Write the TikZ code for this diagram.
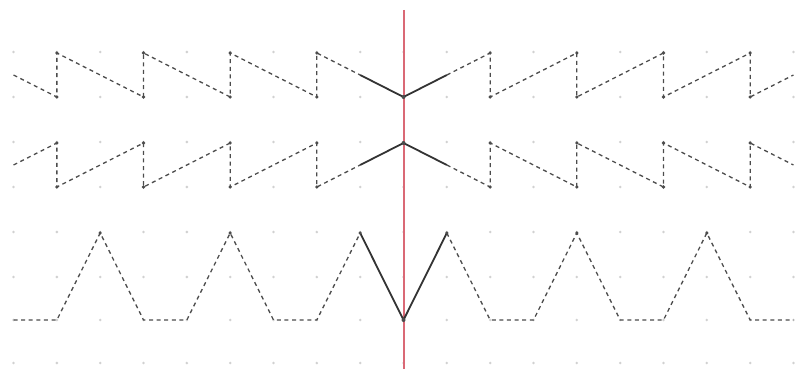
\documentclass[tikz,border=0pt]{standalone}
\begin{document}
\begin{tikzpicture}[x=0.5pt,y=-0.5pt,
  griddot/.style={fill=black!18},
  vdot/.style={fill=black!70},
  dashline/.style={draw=black!70, line width=0.65pt, dash pattern=on 2pt off 1.8pt},
  solidline/.style={draw=black!80, line width=0.9pt},
  axisline/.style={draw={rgb,255:red,218;green,105;blue,118}, line width=1pt}]
\useasboundingbox (0,0) rectangle (801,369);
\begin{scope}[shift={(403.5,0)}, x=21.665pt]
  % faint grid
  \foreach \i in {-9,...,9}
    \foreach \r in {52,97,142,187,232,277,320,363}
      \fill[griddot] (\i,\r) circle (0.7pt);
  % mirror axis
  \coordinate (axtop) at (0,10);
  \coordinate (axbot) at (0,369);
  \draw[axisline] (axtop) -- (axbot);
  % frieze 1
  \draw[dashline] (-9,75) -- (-8,97) -- (-8,53) -- (-6,97) -- (-6,53) -- (-4,97) -- (-4,53) -- (-2,97) -- (-2,53) -- (-1,75);
  \draw[dashline] (1,75) -- (2,53) -- (2,97) -- (4,53) -- (4,97) -- (6,53) -- (6,97) -- (8,53) -- (8,97) -- (9,75);
  \draw[solidline] (-1,75) -- (0,97) -- (1,75);
  \foreach \i in {-8,-6,-4,-2,2,4,6,8}
    \foreach \r in {53,97}
      \fill[vdot] (\i,\r) circle (0.9pt);
  % frieze 2
  \draw[dashline] (-9,165) -- (-8,143) -- (-8,187) -- (-6,143) -- (-6,187) -- (-4,143) -- (-4,187) -- (-2,143) -- (-2,187) -- (-1,165);
  \draw[dashline] (1,165) -- (2,187) -- (2,143) -- (4,187) -- (4,143) -- (6,187) -- (6,143) -- (8,187) -- (8,143) -- (9,165);
  \draw[solidline] (-1,165) -- (0,143) -- (1,165);
  \foreach \i in {-8,-6,-4,-2,2,4,6,8}
    \foreach \r in {143,187}
      \fill[vdot] (\i,\r) circle (0.9pt);
  % frieze 3
  \draw[dashline] (-9,320) -- (-8,320) -- (-7,233) -- (-6,320) -- (-5,320) -- (-4,233) -- (-3,320) -- (-2,320) -- (-1,233);
  \draw[dashline] (1,233) -- (2,320) -- (3,320) -- (4,233) -- (5,320) -- (6,320) -- (7,233) -- (8,320) -- (9,320);
  \draw[solidline] (-1,233) -- (0,320) -- (1,233);
  \foreach \p in {(-7,233),(-4,233),(-1,233),(1,233),(4,233),(7,233)}
    \fill[vdot] \p circle (0.9pt);
  \foreach \r in {97,143,320}
    \fill[vdot] (0,\r) circle (1pt);
\end{scope}
\end{tikzpicture}
\end{document}
